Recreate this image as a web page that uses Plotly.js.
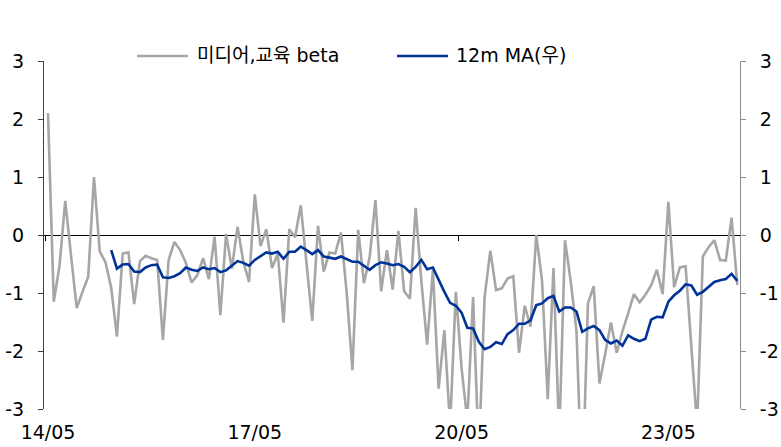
<!DOCTYPE html>
<html>
<head>
<meta charset="utf-8">
<script src="https://cdn.plot.ly/plotly-3.0.1.min.js"></script>
<style>html,body{margin:0;padding:0;background:#fff;}#chart{width:781px;height:447px;}</style>
</head>
<body>
<div id="chart"></div>
<script>
// Monthly series, 2014/05 .. 2024/05
const betaName = '미디어,교육 beta';
const maName = '12m MA(우)';
const beta = [
  2.10,-1.15,-0.53,0.59,-0.35,-1.26,-0.98,-0.72,1.00,-0.28,
  -0.47,-0.91,-1.75,-0.32,-0.30,-1.19,-0.45,-0.36,-0.40,-0.43,
  -1.81,-0.43,-0.12,-0.26,-0.48,-0.82,-0.69,-0.40,-0.76,-0.03,
  -1.38,0.02,-0.58,0.14,-0.46,-0.81,0.70,-0.19,0.10,-0.57,
  -0.32,-1.51,0.10,-0.04,0.51,-0.52,-1.48,0.16,-0.63,-0.30,
  -0.32,0.04,-1.00,-2.33,0.09,-0.83,-0.38,0.60,-0.97,-0.26,
  -0.94,0.07,-0.97,-1.10,0.47,-0.80,-1.89,-0.60,-2.65,-1.64,
  -3.30,-0.98,-2.30,-3.20,-1.07,-3.80,-1.08,-0.27,-0.95,-0.92,
  -0.75,-0.71,-2.03,-1.22,-1.58,0.00,-0.78,-2.83,-0.57,-3.50,
  -0.09,-0.80,-1.65,-4.50,-1.18,-0.88,-2.56,-2.05,-1.51,-2.03,
  -1.66,-1.35,-1.02,-1.16,-1.03,-0.87,-0.60,-1.02,0.57,-0.90,
  -0.56,-0.54,-1.90,-3.30,-0.37,-0.21,-0.09,-0.43,-0.44,0.30,
  -0.86
];
// 12m MA starts at the 12th month (2015/04)
const maStart = 11;
const ma12 = [
  -0.26,-0.58,-0.51,-0.50,-0.63,-0.64,-0.56,-0.52,-0.51,-0.73,
  -0.74,-0.71,-0.66,-0.56,-0.60,-0.62,-0.56,-0.59,-0.57,-0.64,
  -0.61,-0.53,-0.45,-0.48,-0.53,-0.43,-0.36,-0.30,-0.32,-0.29,
  -0.41,-0.29,-0.29,-0.20,-0.26,-0.33,-0.26,-0.37,-0.39,-0.41,
  -0.37,-0.41,-0.46,-0.46,-0.53,-0.60,-0.52,-0.47,-0.49,-0.52,
  -0.50,-0.55,-0.64,-0.55,-0.43,-0.59,-0.56,-0.78,-0.98,-1.17,
  -1.22,-1.34,-1.60,-1.61,-1.84,-1.97,-1.93,-1.85,-1.88,-1.71,
  -1.64,-1.53,-1.53,-1.47,-1.21,-1.18,-1.09,-1.05,-1.32,-1.25,
  -1.25,-1.32,-1.67,-1.61,-1.57,-1.64,-1.81,-1.87,-1.82,-1.91,
  -1.73,-1.79,-1.83,-1.79,-1.46,-1.41,-1.42,-1.15,-1.04,-0.96,
  -0.85,-0.87,-1.03,-0.98,-0.89,-0.81,-0.78,-0.76,-0.67,-0.79
];
const xTickVals = [0, 36, 72, 108];
const xTickText = ['14/05', '17/05', '20/05', '23/05'];
const yTickVals = [-3, -2, -1, 0, 1, 2, 3];
const yTickText = ['-3', '-2', '-1', '0', '1', '2', '3'];

const xBeta = beta.map((_, i) => i);
const xMa = ma12.map((_, i) => i + maStart);

const grayC = '#a6a6a6';
const blueC = '#003399';
const FONT = '"DejaVu Sans", "Noto Sans CJK KR", sans-serif';
const FS = 19;
const xRange = [-0.7, 120.47];

const traces = [
  {x: xBeta, y: beta, type: 'scatter', mode: 'lines', name: betaName,
   line: {color: grayC, width: 2.6}, xaxis: 'x', yaxis: 'y', showlegend: false, hoverinfo: 'skip'},
  {x: xMa, y: ma12, type: 'scatter', mode: 'lines', name: maName,
   line: {color: blueC, width: 2.6}, xaxis: 'x', yaxis: 'y2', showlegend: false, hoverinfo: 'skip'},
  {x: [0], y: [0], type: 'scatter', mode: 'markers', marker: {opacity: 0}, xaxis: 'x2', yaxis: 'y',
   showlegend: false, hoverinfo: 'skip'}
];

const axTick = {family: FONT, size: FS, color: '#000'};
const layout = {
  width: 781, height: 447,
  margin: {l: 44, r: 41, t: 61, b: 38, pad: 0},
  paper_bgcolor: '#fff', plot_bgcolor: 'rgba(0,0,0,0)',
  font: {family: FONT, size: FS, color: '#000'},
  showlegend: false,
  xaxis: {range: xRange, tickvals: xTickVals, ticktext: xTickText, ticks: '',
          showline: false, showgrid: false, zeroline: false, tickfont: axTick,
          ticklabelstandoff: 10, fixedrange: true},
  xaxis2: {range: xRange, overlaying: 'x', anchor: 'free', position: 0.5,
           tickvals: [-0.5, 35.5, 71.5, 107.5], ticks: 'outside', ticklen: 5, tickwidth: 1,
           tickcolor: '#000', showline: true, linecolor: '#000', linewidth: 1,
           showticklabels: false, showgrid: false, zeroline: false, layer: 'below traces'},
  yaxis: {range: [-3, 3], tickvals: yTickVals, ticktext: yTickText, ticks: 'outside',
          ticklen: 5, tickwidth: 1, tickcolor: '#404040', showline: true, linecolor: '#404040',
          linewidth: 1, showgrid: false, zeroline: false, tickfont: axTick, ticklabelstandoff: 10},
  yaxis2: {range: [-3, 3], overlaying: 'y', side: 'right', anchor: 'x', tickvals: yTickVals,
           ticktext: yTickText, ticks: 'outside', ticklen: 5, tickwidth: 1, tickcolor: '#8c8c8c',
           showline: true, linecolor: '#8c8c8c', linewidth: 1, showgrid: false, zeroline: false,
           tickfont: axTick, ticklabelstandoff: 10},
  shapes: [
    {type: 'line', xref: 'paper', yref: 'paper', x0: (137 - 44) / 696, x1: (188 - 44) / 696,
     y0: (409 - 56) / 348, y1: (409 - 56) / 348, line: {color: grayC, width: 2.6}},
    {type: 'line', xref: 'paper', yref: 'paper', x0: (397 - 44) / 696, x1: (448 - 44) / 696,
     y0: (409 - 56) / 348, y1: (409 - 56) / 348, line: {color: blueC, width: 2.6}}
  ],
  annotations: [
    {text: betaName, xref: 'paper', yref: 'paper', x: (195 - 44) / 696, y: (409 - 55) / 348,
     xanchor: 'left', yanchor: 'middle', showarrow: false, font: {family: FONT, size: FS, color: '#000'}},
    {text: maName, xref: 'paper', yref: 'paper', x: (454 - 44) / 696, y: (409 - 55) / 348,
     xanchor: 'left', yanchor: 'middle', showarrow: false, font: {family: FONT, size: FS, color: '#000'}}
  ]
};

Plotly.newPlot('chart', traces, layout, {staticPlot: true, displayModeBar: false});
</script>
</body>
</html>
